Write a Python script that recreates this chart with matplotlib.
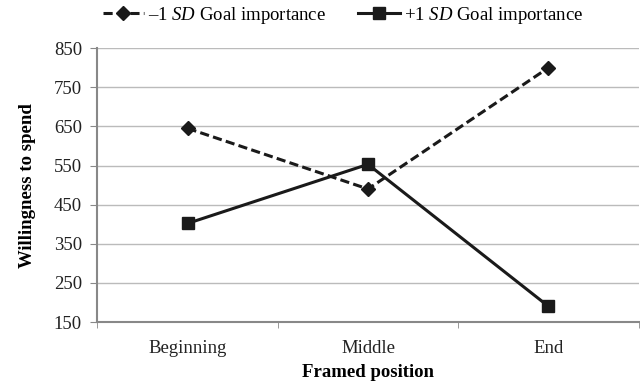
import numpy as np
import matplotlib
matplotlib.use('Agg')
import matplotlib.pyplot as plt

# data
positions = ['Beginning', 'Middle', 'End']
low_goal = [645, 490, 800]    # -1 SD goal importance
high_goal = [402, 553, 190]   # +1 SD goal importance
y_ticks = [150, 250, 350, 450, 550, 650, 750, 850]

plt.rcParams['font.family'] = ['Liberation Serif', 'DejaVu Serif']
plt.rcParams['mathtext.fontset'] = 'custom'
plt.rcParams['mathtext.rm'] = 'Liberation Serif'
plt.rcParams['mathtext.it'] = 'Liberation Serif:italic'

fs = 13.5

fig = plt.figure(figsize=(6.4, 3.82), dpi=100)
ax = fig.add_axes([0.152, 0.157, 0.846, 0.717])

x = np.arange(len(positions))
ax.plot(x, low_goal, color='#1a1a1a', lw=2.2, ls=(0, (3.0, 1.4)), marker='D', ms=7,
        label='\u20131 $\\mathit{SD}$ Goal importance', zorder=3)
ax.plot(x, high_goal, color='#1a1a1a', lw=2.2, ls='-', marker='s', ms=8,
        label='+1 $\\mathit{SD}$ Goal importance', zorder=3)

ax.set_xlim(-0.5, 2.5)
ax.set_ylim(150, 850)
ax.set_yticks(y_ticks)
ax.set_xticks(x)
ax.set_xticklabels(positions)
ax.set_xticks([-0.5, 0.5, 1.5, 2.5], minor=True)
ax.tick_params(axis='x', which='major', length=0, pad=13, labelsize=fs, colors='#222222')
ax.tick_params(axis='x', which='minor', length=4, color='#888888', direction='out')
ax.tick_params(axis='y', length=5, color='#888888', labelsize=fs, labelcolor='#222222', pad=6)

ax.grid(axis='y', color='#bbbbbb', lw=1)
ax.set_axisbelow(True)
for side in ['top', 'right']:
    ax.spines[side].set_visible(False)
for side in ['left', 'bottom']:
    ax.spines[side].set_color('#888888')
    ax.spines[side].set_linewidth(1.5)

ax.set_xlabel('Framed position', fontsize=fs, fontweight='bold', labelpad=5)
ax.set_ylabel('Willingness to spend', fontsize=fs, fontweight='bold', labelpad=13)

# legend sits above the plot, placed in figure coordinates
ax.legend(loc='center', bbox_to_anchor=(343 / 640, 1 - 15 / 382), bbox_transform=fig.transFigure,
          ncol=2, frameon=False, fontsize=fs, handlelength=2.2, handletextpad=0.25,
          columnspacing=1.7, numpoints=1, borderaxespad=0, borderpad=0)

fig.savefig('out.png', dpi=100)
